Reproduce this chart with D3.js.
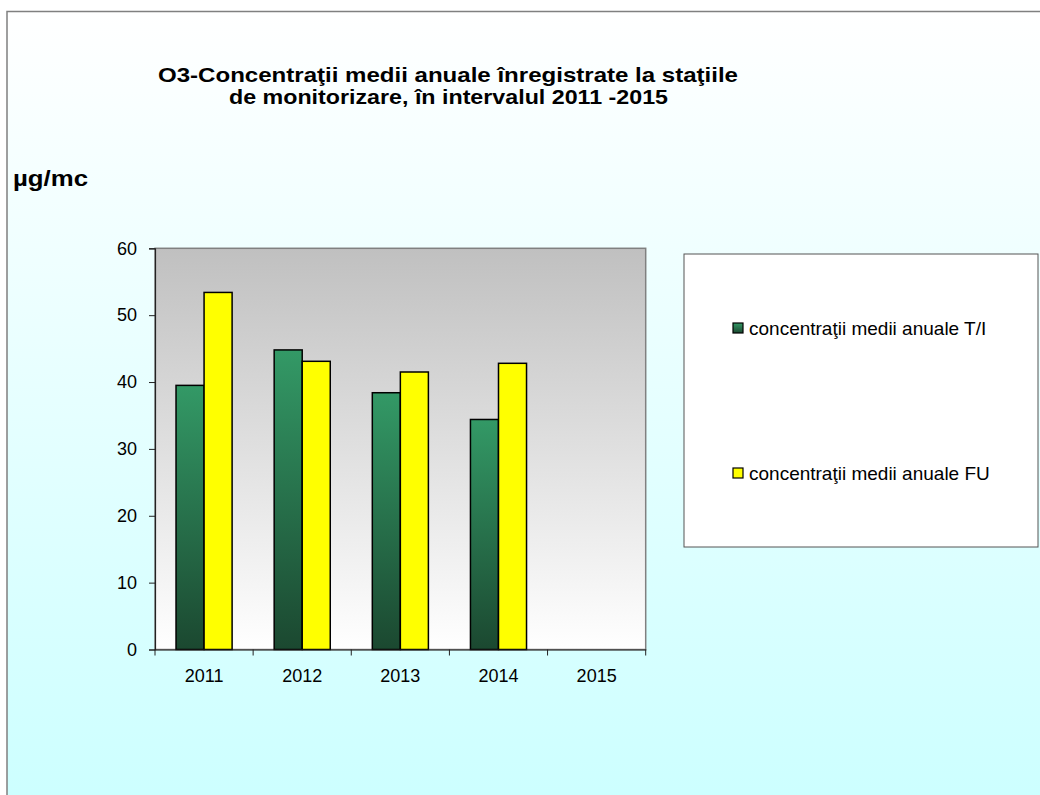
<!DOCTYPE html>
<html lang="ro">
<head>
    <meta charset="UTF-8">
    <title>O3 - concentratii medii anuale</title>
    <style>
        body { margin: 0; background: #fff; }
        svg { display: block; font-family: Arial, "Liberation Sans", sans-serif; }
    </style>
</head>
<body>
    <div id="chart"></div>
    <script src="https://d3js.org/d3.v7.min.js"></script>
    <script>
        const years = ["2011", "2012", "2013", "2014", "2015"];
        const seriesNames = ["concentraţii medii anuale T/I", "concentraţii medii anuale FU"];
        const valuesTI = [39.5, 44.8, 38.4, 34.4, null];
        const valuesFU = [53.4, 43.1, 41.5, 42.8, null];
        const yTicks = [0, 10, 20, 30, 40, 50, 60];

        const W = 1040, H = 795;
        const plot = { left: 155, top: 248.3, right: 645.7, bottom: 649.5 };
        const font = "Arial, 'Liberation Sans', sans-serif";

        const svg = d3.select("#chart").append("svg")
            .attr("width", W)
            .attr("height", H);

        const defs = svg.append("defs");

        const bgGrad = defs.append("linearGradient").attr("id", "bgGrad")
            .attr("x1", 0).attr("y1", 0).attr("x2", 0).attr("y2", 1);
        bgGrad.append("stop").attr("offset", "0%").attr("stop-color", "#ffffff");
        bgGrad.append("stop").attr("offset", "100%").attr("stop-color", "#ccffff");

        const plotGrad = defs.append("linearGradient").attr("id", "plotGrad")
            .attr("x1", 0).attr("y1", 0).attr("x2", 0).attr("y2", 1);
        plotGrad.append("stop").attr("offset", "0%").attr("stop-color", "#c0c0c0");
        plotGrad.append("stop").attr("offset", "100%").attr("stop-color", "#ffffff");

        const greenGrad = defs.append("linearGradient").attr("id", "greenGrad")
            .attr("x1", 0).attr("y1", 0).attr("x2", 0).attr("y2", 1);
        greenGrad.append("stop").attr("offset", "0%").attr("stop-color", "#339966");
        greenGrad.append("stop").attr("offset", "100%").attr("stop-color", "#1b4830");

        // page background + frame
        svg.append("rect")
            .attr("x", 7).attr("y", 11.5)
            .attr("width", W + 10).attr("height", H)
            .attr("fill", "url(#bgGrad)")
            .attr("stroke", "#808080")
            .attr("stroke-width", 1.5);

        // title (original font is drawn a bit wide, so stretch to the measured widths)
        svg.append("text")
            .attr("x", 158).attr("y", 82)
            .attr("font-size", "21px")
            .attr("font-weight", "bold")
            .attr("textLength", 580)
            .attr("lengthAdjust", "spacingAndGlyphs")
            .text("O3-Concentraţii medii anuale înregistrate la staţiile");
        svg.append("text")
            .attr("x", 229).attr("y", 104)
            .attr("font-size", "21px")
            .attr("font-weight", "bold")
            .attr("textLength", 439)
            .attr("lengthAdjust", "spacingAndGlyphs")
            .text("de monitorizare, în intervalul 2011 -2015");

        svg.append("text")
            .attr("x", 13).attr("y", 186)
            .attr("font-size", "22px")
            .attr("font-weight", "bold")
            .attr("textLength", 75)
            .attr("lengthAdjust", "spacingAndGlyphs")
            .text("µg/mc");

        const x = d3.scaleBand()
            .domain(years)
            .range([plot.left, plot.right]);

        const x1 = d3.scaleBand()
            .domain([0, 1])
            .range([0, x.bandwidth()])
            .paddingOuter(0.75);

        const y = d3.scaleLinear()
            .domain([0, 60])
            .range([plot.bottom, plot.top]);

        // plot area
        svg.append("rect")
            .attr("x", plot.left).attr("y", plot.top)
            .attr("width", plot.right - plot.left)
            .attr("height", plot.bottom - plot.top)
            .attr("fill", "url(#plotGrad)")
            .attr("stroke", "#808080")
            .attr("stroke-width", 1.5);

        const data = years.map((yr, i) => ({ year: yr, vals: [valuesTI[i], valuesFU[i]] }));
        const fills = ["url(#greenGrad)", "#ffff00"];

        const groups = svg.append("g").selectAll("g")
            .data(data)
            .join("g")
            .attr("transform", d => `translate(${x(d.year)},0)`);

        groups.selectAll("rect")
            .data(d => d.vals.map((v, k) => ({ k: k, v: v })).filter(e => e.v != null))
            .join("rect")
            .attr("x", e => x1(e.k))
            .attr("y", e => y(e.v))
            .attr("width", x1.bandwidth())
            .attr("height", e => y(0) - y(e.v))
            .attr("fill", e => fills[e.k])
            .attr("stroke", "#000")
            .attr("stroke-width", 1.5);

        // axes
        const yAxis = svg.append("g")
            .attr("transform", `translate(${plot.left},0)`)
            .call(d3.axisLeft(y).tickValues(yTicks).tickSize(6).tickPadding(12));
        yAxis.select(".domain").attr("stroke", "#222").attr("stroke-width", 1.2);
        yAxis.selectAll(".tick line").attr("stroke", "#222");
        yAxis.selectAll("text").attr("font-size", "18px").attr("font-family", font).attr("fill", "#000");

        const xAxis = svg.append("g")
            .attr("transform", `translate(0,${plot.bottom})`)
            .call(d3.axisBottom(x).tickSize(0).tickPadding(20));
        xAxis.select(".domain").attr("stroke", "#222").attr("stroke-width", 1.2);
        xAxis.selectAll("text").attr("font-size", "18px").attr("font-family", font).attr("fill", "#000");

        // category separators on x axis
        svg.append("g").selectAll("line")
            .data(years.concat(["end"]))
            .join("line")
            .attr("x1", (d, i) => plot.left + i * x.step())
            .attr("x2", (d, i) => plot.left + i * x.step())
            .attr("y1", plot.bottom)
            .attr("y2", plot.bottom + 6)
            .attr("stroke", "#222");

        // legend
        const legend = svg.append("g");
        legend.append("rect")
            .attr("x", 684).attr("y", 254)
            .attr("width", 354).attr("height", 293)
            .attr("fill", "#fff")
            .attr("stroke", "#555")
            .attr("stroke-width", 1);

        const legendY = [328, 473];
        const items = legend.selectAll("g.item")
            .data(seriesNames)
            .join("g")
            .attr("class", "item")
            .attr("transform", (d, i) => `translate(738,${legendY[i]})`);
        items.append("rect")
            .attr("x", -5).attr("y", -5)
            .attr("width", 10).attr("height", 10)
            .attr("fill", (d, i) => fills[i])
            .attr("stroke", "#000")
            .attr("stroke-width", 1.2);
        items.append("text")
            .attr("x", 11).attr("y", 7)
            .attr("font-size", "19px")
            .text(d => d);
    </script>
</body>
</html>
